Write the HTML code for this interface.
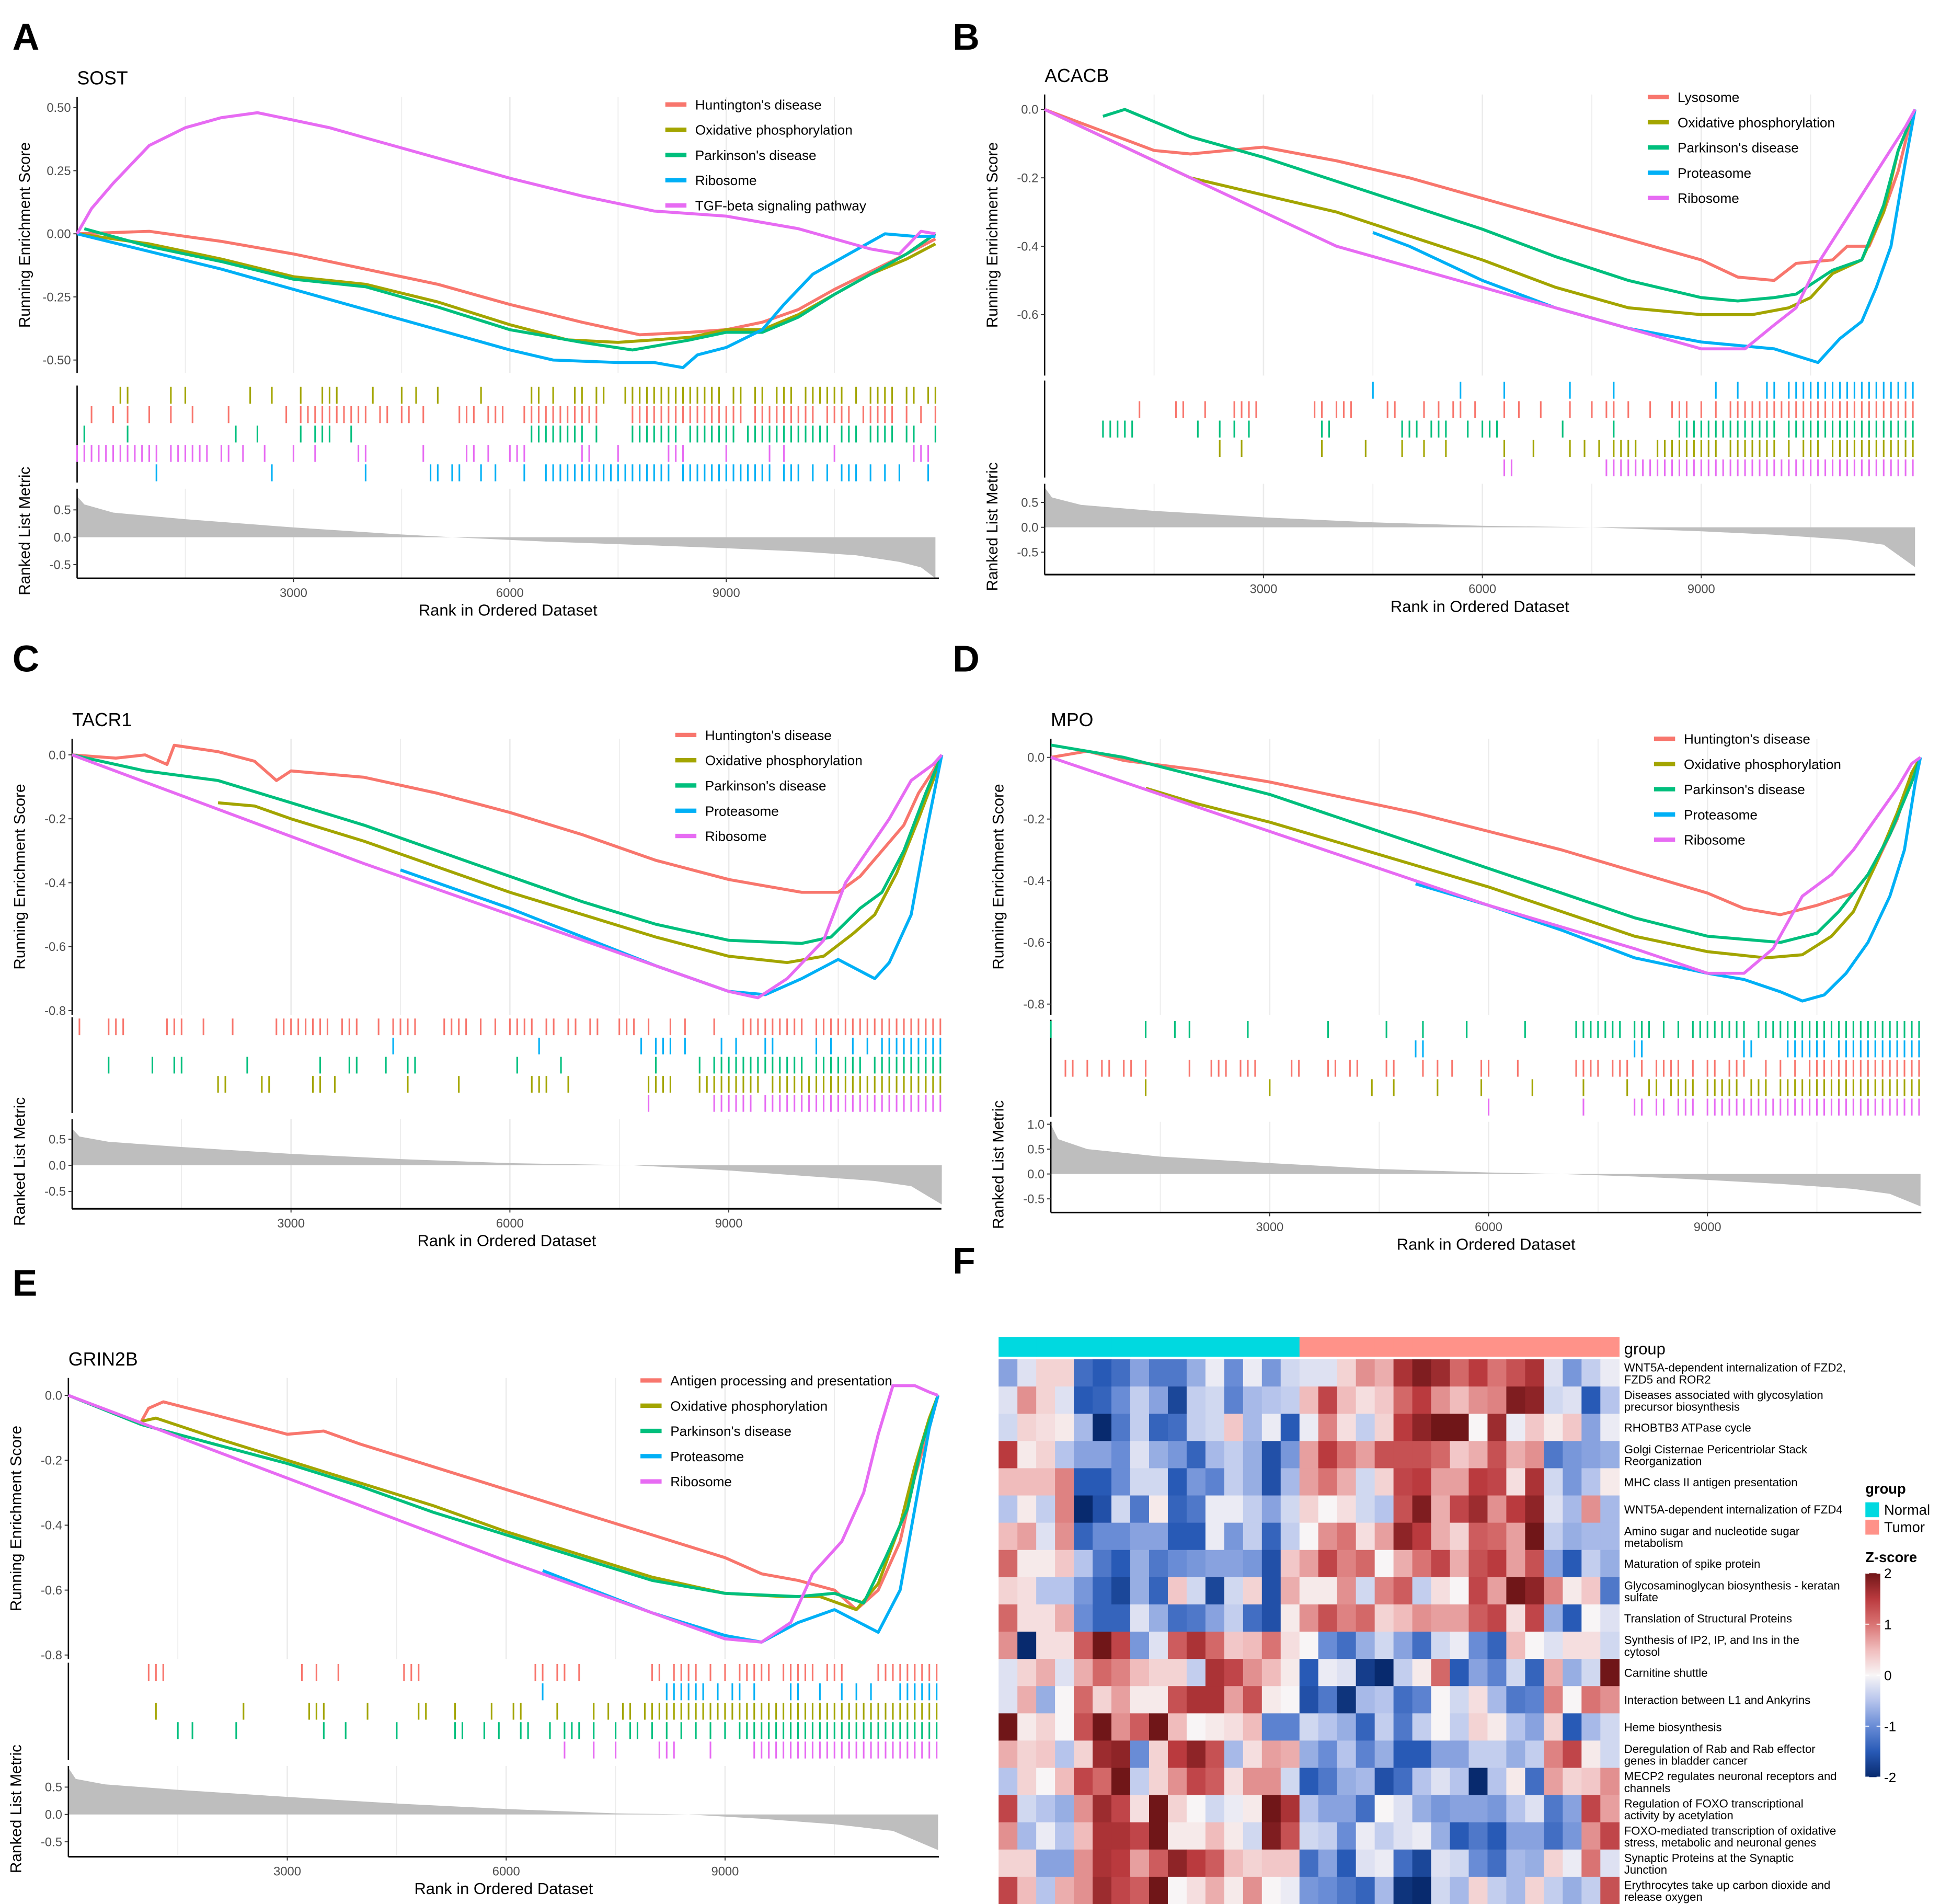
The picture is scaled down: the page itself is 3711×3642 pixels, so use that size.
<!DOCTYPE html>
<html><head><meta charset="utf-8">
<style>
html,body{margin:0;padding:0;background:#fff;}
svg{display:block;font-family:"Liberation Sans",sans-serif;}
</style></head>
<body>
<svg id="fig" xmlns="http://www.w3.org/2000/svg" width="3711" height="3642" viewBox="0 0 1560 1531"></svg>
<script>
// ---------- shared ----------
const xTicks = [3000, 6000, 9000];
const COL = {red:'#F8766D', olive:'#A3A500', green:'#00BF7D', blue:'#00B0F6', pink:'#E76BF3'};

// ---------- Panel A (SOST) ----------
const A_names = ["Huntington's disease","Oxidative phosphorylation","Parkinson's disease","Ribosome","TGF-beta signaling pathway"];
const A_red = [[0,0],[1,0.01],[2,-0.03],[3,-0.08],[4,-0.14],[5,-0.2],[6,-0.28],[7,-0.35],[7.8,-0.4],[8.5,-0.39],[9,-0.38],[9.5,-0.35],[10,-0.3],[10.5,-0.22],[11,-0.15],[11.5,-0.08],[11.9,-0.02]];
const A_olive = [[0,0],[1,-0.04],[2,-0.1],[3,-0.17],[4,-0.2],[5,-0.27],[6,-0.36],[6.8,-0.42],[7.5,-0.43],[8,-0.42],[8.5,-0.41],[9,-0.38],[9.5,-0.38],[10,-0.32],[10.5,-0.24],[11,-0.16],[11.5,-0.1],[11.9,-0.04]];
const A_green = [[0.1,0.02],[1,-0.05],[2,-0.11],[3,-0.18],[4,-0.21],[5,-0.29],[6,-0.38],[7,-0.43],[7.7,-0.46],[8.5,-0.42],[9,-0.39],[9.5,-0.39],[10,-0.33],[10.5,-0.24],[11,-0.16],[11.5,-0.08],[11.9,0]];
const A_blue = [[0,0],[1,-0.07],[2,-0.14],[3,-0.22],[4,-0.3],[5,-0.38],[6,-0.46],[6.6,-0.5],[7.5,-0.51],[8,-0.51],[8.4,-0.53],[8.6,-0.48],[9,-0.45],[9.5,-0.38],[9.8,-0.28],[10.2,-0.16],[10.7,-0.08],[11.2,0],[11.6,-0.01],[11.9,-0.01]];
const A_pink = [[0,0],[0.2,0.1],[0.5,0.2],[1,0.35],[1.5,0.42],[2,0.46],[2.5,0.48],[3,0.45],[3.5,0.42],[4,0.38],[5,0.3],[6,0.22],[7,0.15],[8,0.09],[9,0.07],[10,0.02],[11,-0.06],[11.4,-0.08],[11.7,0.01],[11.9,0]];
const A_rug_olive = [6,7,13,15,24,27,31,34,35,36,41,45,47,50,56,63,64,66,69,70,72,73,76,77,78,79,80,81,82,83,84,85,86,87,88,89,91,92,94,95,97,98,99,101,102,103,104,105,106,108,110,111,112,113,115,116,118,119];
const A_rug_red = [2,5,7,10,13,16,21,29,31,32,33,34,35,36,37,38,39,40,42,43,45,46,48,53,54,55,57,58,59,62,63,64,65,66,67,68,69,70,71,72,77,78,79,80,81,82,83,84,85,86,87,88,89,90,91,92,94,95,96,97,98,99,100,101,102,104,105,106,107,109,110,111,112,113,115,117,119];
const A_rug_green = [1,7,22,25,31,33,34,35,38,63,64,65,66,67,68,69,70,72,77,78,79,80,81,82,83,85,86,87,88,89,90,91,93,94,95,96,97,98,99,100,101,102,103,104,106,107,108,110,111,112,113,115,116,119];
const A_rug_pink = [0,1,2,3,4,5,6,7,8,9,10,11,13,14,15,16,17,18,20,21,23,26,30,33,39,40,48,54,55,57,60,61,62,70,71,75,82,83,84,90,96,98,105,116,117,118];
const A_rug_blue = [11,27,40,49,50,52,53,56,58,62,65,66,67,68,69,70,71,72,73,74,75,76,77,78,79,80,81,82,84,85,86,87,88,89,90,91,92,93,94,95,96,98,99,100,102,104,106,107,108,110,112,114,118];
const A_metric = [[0,0.75],[0.1,0.6],[0.5,0.45],[1.5,0.33],[3,0.18],[4.5,0.05],[5.2,0],[6.5,-0.08],[8,-0.15],[9,-0.2],[10,-0.26],[10.8,-0.33],[11.4,-0.45],[11.7,-0.55],[11.9,-0.75]];

// ---------- Panel B (ACACB) ----------
const B_names = ["Lysosome","Oxidative phosphorylation","Parkinson's disease","Proteasome","Ribosome"];
const B_red = [[0,0],[1,-0.08],[1.5,-0.12],[2,-0.13],[2.5,-0.12],[3,-0.11],[4,-0.15],[5,-0.2],[6,-0.26],[7,-0.32],[8,-0.38],[9,-0.44],[9.5,-0.49],[10,-0.5],[10.3,-0.45],[10.8,-0.44],[11,-0.4],[11.3,-0.4],[11.5,-0.3],[11.7,-0.18],[11.85,-0.05],[11.93,0]];
const B_olive = [[0,0],[2,-0.2],[3,-0.25],[4,-0.3],[5,-0.37],[6,-0.44],[7,-0.52],[8,-0.58],[9,-0.6],[9.7,-0.6],[10.2,-0.58],[10.5,-0.55],[10.8,-0.48],[11.2,-0.44],[11.5,-0.3],[11.7,-0.12],[11.93,0]];
const B_green = [[0.8,-0.02],[1.1,0],[2,-0.08],[3,-0.14],[4,-0.21],[5,-0.28],[6,-0.35],[7,-0.43],[8,-0.5],[9,-0.55],[9.5,-0.56],[10,-0.55],[10.3,-0.54],[10.8,-0.47],[11.2,-0.44],[11.5,-0.28],[11.7,-0.12],[11.93,0]];
const B_blue = [[4.5,-0.36],[5,-0.4],[6,-0.5],[7,-0.58],[8,-0.64],[9,-0.68],[10,-0.7],[10.6,-0.74],[10.9,-0.67],[11.2,-0.62],[11.4,-0.52],[11.6,-0.4],[11.8,-0.15],[11.93,0]];
const B_pink = [[0,0],[2,-0.2],[4,-0.4],[6,-0.52],[8,-0.64],[9,-0.7],[9.6,-0.7],[10,-0.63],[10.3,-0.58],[10.6,-0.45],[10.9,-0.35],[11.2,-0.25],[11.5,-0.15],[11.8,-0.05],[11.93,0]];
const B_rug_blue = [45,57,63,72,78,92,95,99,100,102,103,104,105,106,107,108,109,110,111,112,113,114,115,116,117,118,119];
const B_rug_red = [13,18,19,22,26,27,28,29,37,38,40,41,42,47,48,52,54,56,57,59,63,65,68,72,75,77,78,80,83,86,87,88,90,92,94,95,96,97,98,99,100,101,102,103,104,105,106,107,108,109,110,111,112,113,114,115,116,117,118,119];
const B_rug_green = [8,9,10,11,12,21,24,26,28,38,39,49,50,51,53,54,55,58,60,61,62,71,78,87,88,89,90,91,92,93,94,95,96,97,98,99,100,102,103,104,105,106,107,108,109,110,111,112,113,114,115,116,117,118,119];
const B_rug_olive = [24,27,38,44,49,52,55,63,67,72,74,76,78,79,80,81,84,85,86,87,88,89,90,91,92,94,95,96,97,98,99,100,102,104,105,106,108,109,110,111,112,113,114,115,116,117,118,119];
const B_rug_pink = [63,64,77,78,79,80,81,82,83,84,85,86,87,88,89,90,91,92,93,94,95,96,97,98,99,100,101,102,103,104,105,106,107,108,109,110,111,112,113,114,115,116,117,118,119];
const B_metric = [[0,0.8],[0.1,0.6],[0.5,0.45],[1.5,0.33],[3,0.2],[4.5,0.1],[6,0.03],[7.5,0],[9,-0.08],[10,-0.15],[11,-0.25],[11.5,-0.35],[11.93,-0.8]];

// ---------- Panel C (TACR1) ----------
const C_names = ["Huntington's disease","Oxidative phosphorylation","Parkinson's disease","Proteasome","Ribosome"];
const C_red = [[0,0],[0.6,-0.01],[1,0],[1.3,-0.03],[1.4,0.03],[2,0.01],[2.5,-0.02],[2.8,-0.08],[3,-0.05],[4,-0.07],[5,-0.12],[6,-0.18],[7,-0.25],[8,-0.33],[9,-0.39],[9.5,-0.41],[10,-0.43],[10.5,-0.43],[10.8,-0.38],[11.1,-0.3],[11.4,-0.22],[11.6,-0.12],[11.8,-0.05],[11.92,0]];
const C_olive = [[2,-0.15],[2.5,-0.16],[3,-0.2],[4,-0.27],[5,-0.35],[6,-0.43],[7,-0.5],[8,-0.57],[9,-0.63],[9.8,-0.65],[10.3,-0.63],[10.7,-0.56],[11,-0.5],[11.3,-0.37],[11.6,-0.2],[11.8,-0.08],[11.92,0]];
const C_green = [[0,0],[1,-0.05],[2,-0.08],[3,-0.15],[4,-0.22],[5,-0.3],[6,-0.38],[7,-0.46],[8,-0.53],[9,-0.58],[10,-0.59],[10.4,-0.57],[10.8,-0.48],[11.1,-0.43],[11.4,-0.3],[11.7,-0.12],[11.92,0]];
const C_blue = [[4.5,-0.36],[6,-0.48],[7,-0.57],[8,-0.66],[9,-0.74],[9.5,-0.75],[10,-0.7],[10.5,-0.64],[11,-0.7],[11.2,-0.65],[11.5,-0.5],[11.7,-0.25],[11.92,0]];
const C_pink = [[0,0],[2,-0.17],[4,-0.34],[6,-0.5],[8,-0.66],[9,-0.74],[9.4,-0.76],[9.8,-0.7],[10.3,-0.58],[10.6,-0.4],[10.9,-0.3],[11.2,-0.2],[11.5,-0.08],[11.8,-0.03],[11.92,0]];
const C_rug_red = [1,5,6,7,13,14,15,18,22,28,29,30,31,32,33,34,35,37,38,39,42,44,45,46,47,51,52,53,54,56,58,60,61,62,63,65,66,68,69,71,72,75,76,77,79,82,84,88,92,93,94,95,96,97,98,99,100,102,103,104,105,106,107,108,109,110,111,112,113,114,115,116,117,118,119];
const C_rug_blue = [44,64,78,80,81,82,84,89,91,95,96,102,104,107,109,111,112,113,114,115,116,117,118,119];
const C_rug_green = [5,11,14,15,24,34,38,39,43,46,47,61,67,80,86,88,89,90,91,92,93,94,95,96,97,98,99,100,102,103,104,105,106,107,108,110,111,112,113,114,115,116,117,118,119];
const C_rug_olive = [20,21,26,27,33,34,36,46,53,63,64,65,68,79,80,81,82,86,87,88,89,90,91,92,93,94,96,97,98,99,100,101,102,103,104,105,106,107,108,109,110,111,112,113,114,115,116,117,118,119];
const C_rug_pink = [79,88,89,90,91,92,93,95,96,97,98,99,100,101,102,103,104,105,106,107,108,109,110,111,112,113,114,115,116,117,118,119];
const C_metric = [[0,0.7],[0.1,0.55],[0.5,0.45],[1.5,0.35],[3,0.22],[4.5,0.12],[6,0.04],[7.7,0],[9,-0.1],[10,-0.2],[11,-0.3],[11.5,-0.4],[11.92,-0.75]];

// ---------- Panel D (MPO) ----------
const D_names = ["Huntington's disease","Oxidative phosphorylation","Parkinson's disease","Proteasome","Ribosome"];
const D_red = [[0,0],[0.5,0.02],[1,-0.01],[2,-0.04],[3,-0.08],[4,-0.13],[5,-0.18],[6,-0.24],[7,-0.3],[8,-0.37],[9,-0.44],[9.5,-0.49],[10,-0.51],[10.5,-0.48],[11,-0.44],[11.3,-0.35],[11.6,-0.2],[11.8,-0.05],[11.92,0]];
const D_olive = [[1.3,-0.1],[2,-0.15],[3,-0.21],[4,-0.28],[5,-0.35],[6,-0.42],[7,-0.5],[8,-0.58],[9,-0.63],[9.8,-0.65],[10.3,-0.64],[10.7,-0.58],[11,-0.5],[11.3,-0.35],[11.6,-0.18],[11.8,-0.05],[11.92,0]];
const D_green = [[0,0.04],[1,0],[2,-0.06],[3,-0.12],[4,-0.2],[5,-0.28],[6,-0.36],[7,-0.44],[8,-0.52],[9,-0.58],[10,-0.6],[10.5,-0.57],[10.8,-0.5],[11.2,-0.38],[11.5,-0.25],[11.8,-0.08],[11.92,0]];
const D_blue = [[5,-0.41],[6,-0.48],[7,-0.56],[8,-0.65],[9,-0.7],[9.5,-0.72],[10,-0.76],[10.3,-0.79],[10.6,-0.77],[10.9,-0.7],[11.2,-0.6],[11.5,-0.45],[11.7,-0.3],[11.85,-0.08],[11.92,0]];
const D_pink = [[0,0],[2,-0.16],[4,-0.32],[6,-0.48],[8,-0.62],[9,-0.7],[9.5,-0.7],[9.9,-0.62],[10.3,-0.45],[10.7,-0.38],[11,-0.3],[11.3,-0.2],[11.6,-0.1],[11.8,-0.02],[11.92,0]];
const D_rug_green = [0,13,17,19,27,38,46,51,57,65,72,73,74,75,76,77,78,80,81,82,84,86,88,89,90,91,92,93,94,95,97,98,99,100,101,102,103,104,105,106,107,108,109,110,111,112,113,114,115,116,117,118,119];
const D_rug_blue = [50,51,80,81,95,96,101,102,103,104,105,106,108,109,110,111,112,113,114,115,116,117,118,119];
const D_rug_red = [2,3,5,7,8,10,11,13,19,22,23,24,26,27,28,33,34,38,39,41,42,46,47,51,53,55,59,60,64,72,73,74,75,77,78,79,81,83,84,85,86,88,90,91,93,94,95,98,100,102,104,105,106,107,108,109,110,111,112,113,114,115,116,117,118,119];
const D_rug_olive = [13,30,44,47,53,59,66,73,79,82,83,85,86,87,88,90,91,92,93,94,96,97,98,100,101,102,103,104,105,106,107,108,109,110,111,112,113,114,115,116,117,118,119];
const D_rug_pink = [60,73,80,81,83,84,86,87,88,90,91,92,93,94,95,96,97,98,99,100,101,102,103,104,105,106,107,108,109,110,111,112,113,114,115,116,117,118,119];
const D_metric = [[0,1.0],[0.1,0.7],[0.5,0.5],[1.5,0.35],[3,0.22],[4.5,0.1],[6,0.03],[7,0],[8,-0.05],[9,-0.12],[10,-0.2],[11,-0.3],[11.5,-0.4],[11.92,-0.65]];

// ---------- Panel E (GRIN2B) ----------
const E_names = ["Antigen processing and presentation","Oxidative phosphorylation","Parkinson's disease","Proteasome","Ribosome"];
const E_red = [[1,-0.08],[1.1,-0.04],[1.3,-0.02],[2,-0.06],[3,-0.12],[3.5,-0.11],[4,-0.15],[5,-0.22],[6,-0.29],[7,-0.36],[8,-0.43],[9,-0.5],[9.5,-0.55],[10,-0.57],[10.5,-0.6],[10.8,-0.66],[11.1,-0.6],[11.4,-0.45],[11.6,-0.25],[11.8,-0.1],[11.92,0]];
const E_olive = [[1,-0.08],[1.2,-0.07],[2,-0.13],[3,-0.2],[4,-0.27],[5,-0.34],[6,-0.42],[7,-0.49],[8,-0.56],[9,-0.61],[9.8,-0.62],[10.3,-0.62],[10.8,-0.66],[11.1,-0.58],[11.4,-0.4],[11.6,-0.22],[11.8,-0.07],[11.92,0]];
const E_green = [[0,0],[1,-0.09],[2,-0.15],[3,-0.21],[4,-0.28],[5,-0.36],[6,-0.43],[7,-0.5],[8,-0.57],[9,-0.61],[10,-0.62],[10.5,-0.61],[10.9,-0.64],[11.2,-0.5],[11.5,-0.35],[11.7,-0.15],[11.92,0]];
const E_blue = [[6.5,-0.54],[8,-0.67],[9,-0.74],[9.5,-0.76],[10,-0.7],[10.5,-0.66],[11.1,-0.73],[11.4,-0.6],[11.6,-0.35],[11.8,-0.1],[11.92,0]];
const E_pink = [[0,0],[2,-0.17],[4,-0.34],[6,-0.51],[8,-0.67],[9,-0.75],[9.5,-0.76],[9.9,-0.7],[10.2,-0.55],[10.6,-0.45],[10.9,-0.3],[11.1,-0.12],[11.3,0.03],[11.6,0.03],[11.8,0.01],[11.92,0]];
const E_rug_red = [11,12,13,32,34,37,46,47,48,64,65,67,68,70,80,81,83,84,85,86,88,90,92,93,94,95,96,98,99,100,101,102,104,105,106,111,112,113,114,115,116,117,118,119];
const E_rug_blue = [65,82,83,84,85,86,87,89,91,92,94,99,100,103,106,108,110,114,115,116,117,118,119];
const E_rug_olive = [12,24,33,34,35,41,48,49,53,58,61,62,67,72,74,76,77,79,80,81,82,83,84,85,86,87,88,89,90,91,92,93,94,95,96,97,98,99,100,101,102,103,104,105,106,107,108,109,110,111,112,113,114,115,116,117,118,119];
const E_rug_green = [15,17,23,35,38,45,53,54,57,59,62,63,66,68,69,70,72,75,77,78,80,82,84,86,88,90,92,93,94,95,96,97,98,99,100,101,102,103,104,105,106,107,108,109,110,111,112,113,114,115,116,117,118,119];
const E_rug_pink = [68,72,75,81,82,83,88,94,95,96,97,98,99,100,101,102,103,104,105,106,107,108,109,110,111,112,113,114,115,116,117,118,119];
const E_metric = [[0,0.85],[0.1,0.65],[0.5,0.55],[1.5,0.45],[3,0.32],[4.5,0.2],[6,0.1],[7.5,0.02],[8.5,0],[9.5,-0.08],[10.5,-0.18],[11.3,-0.3],[11.92,-0.65]];

// ---------- Heatmap (F) ----------
const hmRows = ["WNT5A-dependent internalization of FZD2,|FZD5 and ROR2","Diseases associated with glycosylation|precursor biosynthesis","RHOBTB3 ATPase cycle","Golgi Cisternae Pericentriolar Stack|Reorganization","MHC class II antigen presentation","WNT5A-dependent internalization of FZD4","Amino sugar and nucleotide sugar|metabolism","Maturation of spike protein","Glycosaminoglycan biosynthesis - keratan|sulfate","Translation of Structural Proteins","Synthesis of IP2, IP, and Ins in the|cytosol","Carnitine shuttle","Interaction between L1 and Ankyrins","Heme biosynthesis","Deregulation of Rab and Rab effector|genes in bladder cancer","MECP2 regulates neuronal receptors and|channels","Regulation of FOXO transcriptional|activity by acetylation","FOXO-mediated transcription of oxidative|stress, metabolic and neuronal genes","Synaptic Proteins at the Synaptic|Junction","Erythrocytes take up carbon dioxide and|release oxygen"];
const hmGroups = ["Normal","Normal","Normal","Normal","Normal","Normal","Normal","Normal","Normal","Normal","Normal","Normal","Normal","Normal","Normal","Normal","Tumor","Tumor","Tumor","Tumor","Tumor","Tumor","Tumor","Tumor","Tumor","Tumor","Tumor","Tumor","Tumor","Tumor","Tumor","Tumor","Tumor"];
const hmZ = [
[-0.8,-0.2,0.3,0.3,-1.3,-1.5,-1.3,-0.8,-1.2,-1.2,-0.7,-0.1,-1,-0.1,-0.9,-0.3,-0.2,-0.2,0.3,0.8,0.6,1.6,1.9,1.7,1.1,1.5,1,1.3,1.6,-0.2,-0.9,-0.4,-0.1],
[-0.2,0.8,0.3,-0.2,-1.5,-1.4,-1,-0.4,-0.8,-1.7,-0.4,-0.3,-1.1,-0.6,-0.5,-0.4,0.5,1.4,0.5,0.2,0.4,1.1,1.5,0.8,0.5,0.8,0.9,1.9,1.8,-0.3,-0.2,-1.5,-0.5],
[-0.3,0.3,0.2,0.1,-0.6,-2.2,-1.2,-0.4,-1.4,-1.3,-0.4,-0.3,0.4,-0.6,-0.1,-1.5,-0.1,0.9,0.2,-0.4,0.3,1.5,1.8,2.3,2,0,1.7,-0.1,0.4,0.1,0.4,-0.8,-0.1],
[1.5,0.1,0.3,-0.5,-0.8,-0.8,-1,-0.2,-0.7,-0.9,-1.4,-0.6,-0.4,-0.7,-1.6,-0.9,0.7,1.5,1,0.7,1.3,1.3,1.3,1.1,0.4,0.6,1.3,0.6,0.8,-1.2,-0.9,-0.8,-0.7],
[0.5,0.5,0.5,0.9,-1.5,-1.5,-1,-0.3,-0.3,-1.5,-0.9,-1.1,-0.4,-0.7,-1.6,-0.6,0.7,1,0.6,-0.3,0.3,1.4,1.5,0.7,0.7,1.5,1.4,0.2,1.6,-0.3,-0.9,-0.5,0.1],
[-0.5,0.1,-0.4,0.9,-2.1,-1.6,-0.3,-1.2,0.1,-1.4,-1.2,-0.1,-0.1,-0.4,-0.8,-0.3,0.3,0,0.2,-0.3,-0.5,1.3,1.9,0.6,1.4,1.7,0.8,1.5,1.8,-0.2,-0.6,0.8,-0.6],
[0.5,0.7,-0.2,0.8,-1.4,-1,-1,-0.8,-0.8,-1.5,-1.5,-0.1,-0.9,-0.4,-1.4,-0.4,0,0.8,1,0.2,0.7,1.8,1.5,0.6,0.3,1.2,1.1,0.7,2,-0.4,-0.7,-0.6,-0.6],
[1.1,0.1,0.1,0.4,-0.5,-1.2,-1.5,-0.7,-1.2,-1,-0.9,-0.8,-0.8,-0.9,-1.6,0.4,0.7,1.4,0.9,1.1,0,0.6,1,1.4,0.6,1.3,1.5,0.7,1.3,-0.8,-1.5,-0.4,-0.7],
[0.3,0.2,-0.5,-0.5,-0.9,-1.4,-1.7,-0.7,-1.4,0.4,-0.3,-1.7,-0.3,0.3,-1.6,0.6,0.1,0.1,0.8,-0.3,0.9,1.2,-0.4,0.2,0,1.4,0.7,2.3,1.8,0.9,0.1,0.4,-1.2],
[1.1,0.2,0.2,0.6,-1,-1.4,-1.4,-0.2,-0.7,-1.3,-1.2,-0.8,-0.4,-1.3,-1.6,0.1,0.8,1.3,0.9,1.1,0.3,0.5,0.8,0.7,0.7,1.2,1.4,0.2,1.4,-0.7,-1.5,0,-0.2],
[0.8,-2.2,0.2,0.2,1.2,2,1.4,-0.9,-0.2,1.2,1.6,1.1,0.4,0.5,1,0.2,0,-1,-1.3,-0.7,-0.3,-0.8,-1.3,-0.3,-0.1,-1,-1.4,0.5,0,-0.2,0.2,0.2,-0.3],
[-0.2,0.3,0.6,-0.2,0.6,1.1,0.9,0.5,0.3,0.3,-0.4,1.6,1.4,0.8,0.5,0.1,-1.5,-0.1,-0.2,-1.8,-2.1,-0.4,0.1,1.1,-1.5,-0.8,-1.1,-0.3,-1.4,0.6,-0.7,-0.3,2],
[-0.2,0.6,-0.7,0,1.1,0.3,0.7,0.1,0.1,1.3,1.6,1.6,0.7,1.3,0.1,0,-1.6,-1.2,-1.9,-0.6,-0.5,-1.3,-1.1,0,-0.3,0.2,-0.6,-1.2,-1.1,0.9,0,1,0.8],
[2,0.1,0.3,0,1.3,2.3,0.8,1.2,2.3,0.5,0,0.1,0.2,0.5,-1.1,-1.1,-0.3,-0.5,-0.7,-1.4,-0.4,-1.2,-0.4,0,-0.4,0.3,0.1,-0.5,-0.8,0.3,-1.5,-0.6,-0.3],
[0.6,0.3,0.4,-0.5,0.3,1.7,1.8,-1,0.3,1.5,1.8,1.3,-0.6,0.2,0.7,0.6,-0.7,-1,-0.5,-1.1,-0.7,-1.5,-1.5,-0.8,-0.8,-0.4,-0.4,-0.7,-0.4,0.9,1.4,0.1,-0.3],
[-0.5,0.3,0,0.5,1.4,1.1,2.2,-0.4,0.3,0.8,1.4,1.2,0.2,0.8,0.8,-0.3,-1.5,-1.2,-0.7,-0.6,-1.6,-1.3,-0.5,-0.2,-0.5,-2.1,-0.5,0.1,-1.3,0.7,0.3,0.4,0.8],
[1.4,-0.3,-0.5,-0.7,0.8,1.7,1.4,0.2,2,0.3,0,-0.3,-0.1,0.1,2.1,1.6,-0.5,-0.8,-0.8,-1.3,0,-0.2,-0.7,-0.9,-0.8,-0.8,-0.9,-0.5,-0.2,-1.2,-0.8,1.4,0.7],
[0.8,-0.6,-0.1,-0.5,0.5,1.6,1.6,1.4,2,0.1,0.1,0.5,0.1,-0.3,1.9,1.3,-0.3,-0.4,-1,-0.1,-0.4,-0.2,-0.1,-0.7,-1.5,-1.2,-1.5,-0.8,-0.8,-1.3,-0.9,0.8,1.4],
[0.3,0.3,-0.8,-0.8,0.8,1.6,1.5,0.7,1.2,1.8,1.5,1.2,0.5,0.3,0.4,0.4,-1.3,-0.8,-1.5,-0.2,-0.1,-1.3,-1.7,-0.2,-0.3,-1,-1.3,-0.6,-0.7,0.3,-0.1,1,-0.2],
[1.4,0.5,-0.5,0.6,0.8,1.7,1.4,1.2,2.1,0,0.2,0.6,0.1,0.8,0,-0.1,-0.9,-1,-1.2,-1.4,-0.6,-1.9,-2.1,-0.3,-0.6,0.3,-0.4,-0.6,0.3,-0.4,-0.7,-0.4,1.3]
];
const zTicks = [2,1,0,-1,-2];

// ---------- drawing ----------
const NS = 'http://www.w3.org/2000/svg';
const svg = document.getElementById('fig');
function mk(tag, attrs, parent, text){
  const e = document.createElementNS(NS, tag);
  for (const k in attrs) e.setAttribute(k, attrs[k]);
  if (text !== undefined) e.textContent = text;
  (parent || svg).appendChild(e);
  return e;
}

const panelDefs = [
 {id:'A', gene:'SOST', x0:62, kx:58, x1:755, esY0:188, esK:203, esTop:78, esBot:300, esTicks:[0.5,0.25,0,-0.25,-0.5], dec:2,
  rugTop:310, rugBot:388, metY0:432, metK:44, metTop:393, metBot:465, metTicks:[0.5,0,-0.5],
  legX:535, legY:84, names:A_names, series:[['red',A_red],['olive',A_olive],['green',A_green],['blue',A_blue],['pink',A_pink]],
  rug:[['olive',A_rug_olive],['red',A_rug_red],['green',A_rug_green],['pink',A_rug_pink],['blue',A_rug_blue]], metric:A_metric, letterX:10, letterY:40},
 {id:'B', gene:'ACACB', x0:840, kx:58.67, x1:1540, esY0:88, esK:275, esTop:76, esBot:302, esTicks:[0,-0.2,-0.4,-0.6], dec:1,
  rugTop:306, rugBot:384, metY0:424, metK:40, metTop:389, metBot:462, metTicks:[0.5,0,-0.5],
  legX:1325, legY:78, names:B_names, series:[['red',B_red],['olive',B_olive],['green',B_green],['blue',B_blue],['pink',B_pink]],
  rug:[['blue',B_rug_blue],['red',B_rug_red],['green',B_rug_green],['olive',B_rug_olive],['pink',B_rug_pink]], metric:B_metric, letterX:766, letterY:40},
 {id:'C', gene:'TACR1', x0:58, kx:58.67, x1:757, esY0:607, esK:257, esTop:594, esBot:816, esTicks:[0,-0.2,-0.4,-0.6,-0.8], dec:1,
  rugTop:818, rugBot:895, metY0:937, metK:42, metTop:900, metBot:972, metTicks:[0.5,0,-0.5],
  legX:543, legY:591, names:C_names, series:[['red',C_red],['olive',C_olive],['green',C_green],['blue',C_blue],['pink',C_pink]],
  rug:[['red',C_rug_red],['blue',C_rug_blue],['green',C_rug_green],['olive',C_rug_olive],['pink',C_rug_pink]], metric:C_metric, letterX:10, letterY:540},
 {id:'D', gene:'MPO', x0:845, kx:58.67, x1:1545, esY0:609, esK:248, esTop:594, esBot:816, esTicks:[0,-0.2,-0.4,-0.6,-0.8], dec:1,
  rugTop:820, rugBot:898, metY0:944, metK:40, metTop:902, metBot:975, metTicks:[1.0,0.5,0,-0.5], metDec:1,
  legX:1330, legY:594, names:D_names, series:[['red',D_red],['olive',D_olive],['green',D_green],['blue',D_blue],['pink',D_pink]],
  rug:[['green',D_rug_green],['blue',D_rug_blue],['red',D_rug_red],['olive',D_rug_olive],['pink',D_rug_pink]], metric:D_metric, letterX:766, letterY:540},
 {id:'E', gene:'GRIN2B', x0:55, kx:58.67, x1:755, esY0:1122, esK:261, esTop:1108, esBot:1334, esTicks:[0,-0.2,-0.4,-0.6,-0.8], dec:1,
  rugTop:1337, rugBot:1415, metY0:1459, metK:44, metTop:1420, metBot:1493, metTicks:[0.5,0,-0.5],
  legX:515, legY:1110, names:E_names, series:[['red',E_red],['olive',E_olive],['green',E_green],['blue',E_blue],['pink',E_pink]],
  rug:[['red',E_rug_red],['blue',E_rug_blue],['olive',E_rug_olive],['green',E_rug_green],['pink',E_rug_pink]], metric:E_metric, letterX:10, letterY:1042}
];

function fmt(v,d){ let s=v.toFixed(d); return s; }

panelDefs.forEach(p => {
  const g = mk('g', {});
  
  
  const X = r => p.x0 + r * p.kx;          // r in thousands of ranks
  const YE = v => p.esY0 - v * p.esK;
  const YM = v => p.metY0 - v * p.metK;

  const L = mk('text', {x:p.letterX, y:p.letterY, 'font-size':30, 'font-weight':'bold', fill:'#000'}, g, p.id);
  
  
  const T = mk('text', {x:p.x0, y:p.esTop - 10, 'font-size':15, fill:'#000'}, g, p.gene);
  
  

  // grid
  [1.5,3,4.5,6,7.5,9,10.5].forEach(k => {
    const x = X(k);
    const w = (k % 3 === 0) ? 1.1 : 0.7;
    mk('line', {x1:x, x2:x, y1:p.esTop, y2:p.esBot, stroke:'#ebebeb', 'stroke-width':w}, g);
    mk('line', {x1:x, x2:x, y1:p.metTop, y2:p.metBot, stroke:'#ebebeb', 'stroke-width':w}, g);
  });

  // ES axis
  mk('line', {x1:p.x0, x2:p.x0, y1:p.esTop, y2:p.esBot, stroke:'#000', 'stroke-width':1.1}, g);
  p.esTicks.forEach(v => {
    const y = YE(v);
    mk('line', {x1:p.x0-3, x2:p.x0, y1:y, y2:y, stroke:'#333', 'stroke-width':0.8}, g);
    const t = mk('text', {x:p.x0-5, y:y+3.5, 'font-size':10, fill:'#4d4d4d', 'text-anchor':'end'}, g, fmt(v,p.dec));
    
    
  });
  const yt = mk('text', {x:0, y:0, 'font-size':12.5, fill:'#000', 'text-anchor':'middle',
    transform:`translate(${p.x0-38},${(p.esTop+p.esBot)/2}) rotate(-90)`}, g, 'Running Enrichment Score');
  
  

  // curves
  p.series.forEach(([c, pts], i) => {
    const d = pts.map((q,j) => (j? 'L':'M') + X(q[0]).toFixed(1) + ',' + YE(q[1]).toFixed(1)).join(' ');
    const path = mk('path', {d:d, fill:'none', stroke:COL[c], 'stroke-width':2.4, 'stroke-linejoin':'round'}, g);
    
    
  });

  // legend
  p.series.forEach(([c], i) => {
    const y = p.legY + i * 20.3;
    mk('line', {x1:p.legX, x2:p.legX+17, y1:y, y2:y, stroke:COL[c], 'stroke-width':3.5}, g);
    const t = mk('text', {x:p.legX+24, y:y+4, 'font-size':11, fill:'#000'}, g, p.names[i]);
    
    
  });

  // rug
  mk('line', {x1:p.x0, x2:p.x0, y1:p.rugTop, y2:p.rugBot, stroke:'#000', 'stroke-width':1.1}, g);
  const rh = (p.rugBot - p.rugTop) / 5;
  p.rug.forEach(([c, arr], i) => {
    const y1 = p.rugTop + i*rh + 1, y2 = p.rugTop + (i+1)*rh - 1;
    const rg = mk('g', {stroke:COL[c], 'stroke-width':1.3}, g);
    
    
    arr.forEach(h => { const x = X(h/10); mk('line', {x1:x, x2:x, y1:y1, y2:y2}, rg); });
  });

  // metric
  const md = 'M' + X(p.metric[0][0]) + ',' + YM(0) + ' ' + p.metric.map(q => 'L' + X(q[0]).toFixed(1) + ',' + YM(q[1]).toFixed(1)).join(' ') + ' L' + X(p.metric[p.metric.length-1][0]) + ',' + YM(0) + ' Z';
  const mp = mk('path', {d:md, fill:'#bebebe', stroke:'none'}, g);
  
  
  mk('line', {x1:p.x0, x2:p.x0, y1:p.metTop, y2:p.metBot, stroke:'#000', 'stroke-width':1.1}, g);
  mk('line', {x1:p.x0, x2:p.x1, y1:p.metBot, y2:p.metBot, stroke:'#000', 'stroke-width':1.3}, g);
  p.metTicks.forEach(v => {
    const y = YM(v);
    mk('line', {x1:p.x0-3, x2:p.x0, y1:y, y2:y, stroke:'#333', 'stroke-width':0.8}, g);
    const t = mk('text', {x:p.x0-5, y:y+3.5, 'font-size':10, fill:'#4d4d4d', 'text-anchor':'end'}, g, fmt(v,1));
    
    
  });
  xTicks.forEach(v => {
    const x = X(v/1000);
    mk('line', {x1:x, x2:x, y1:p.metBot, y2:p.metBot+3, stroke:'#333', 'stroke-width':0.8}, g);
    const t = mk('text', {x:x, y:p.metBot+15, 'font-size':10, fill:'#4d4d4d', 'text-anchor':'middle'}, g, String(v));
    
    
  });
  const xt = mk('text', {x:(p.x0+p.x1)/2, y:p.metBot+30, 'font-size':13, fill:'#000', 'text-anchor':'middle'}, g, 'Rank in Ordered Dataset');
  
  
  const mt = mk('text', {x:0, y:0, 'font-size':12.5, fill:'#000', 'text-anchor':'middle',
    transform:`translate(${p.x0-38},${(p.metTop+p.metBot)/2-2}) rotate(-90)`}, g, 'Ranked List Metric');
  
  
});

// ---------- heatmap drawing ----------
(function(){
  const g = mk('g', {});
  
  
  const L = mk('text', {x:766, y:1024, 'font-size':30, 'font-weight':'bold', fill:'#000'}, g, 'F');
  
  
  const hx0 = 803, hx1 = 1302, hy0 = 1093, hy1 = 1531, by0 = 1075, by1 = 1091;
  const cw = (hx1 - hx0) / hmGroups.length, rh = (hy1 - hy0) / hmRows.length;
  const stops = [[-2,[8,42,110]],[-1.5,[40,90,182]],[-1,[105,140,214]],[-0.5,[182,196,236]],[0,[248,245,246]],[0.5,[240,188,188]],[1,[217,115,115]],[1.5,[186,58,62]],[2,[112,22,24]]];
  function zc(v){
    v = Math.max(-2, Math.min(2, v));
    for (let i=0;i<stops.length-1;i++){
      const [a,ca]=stops[i],[b,cb]=stops[i+1];
      if (v>=a && v<=b){ const t=(v-a)/(b-a); return 'rgb('+ca.map((c,k)=>Math.round(c+(cb[k]-c)*t)).join(',')+')'; }
    }
    return '#fff';
  }
  hmGroups.forEach((gr, j) => {
    const r = mk('rect', {x:hx0 + j*cw, y:by0, width:cw+0.3, height:by1-by0, fill: gr==='Normal' ? '#00D9E0' : '#FF9289'}, g);
    
    
  });
  const gl = mk('text', {x:hx1+4, y:by1-2, 'font-size':13, fill:'#000'}, g, 'group');
  
  
  hmZ.forEach((row, i) => {
    row.forEach((v, j) => {
      const r = mk('rect', {x:hx0 + j*cw, y:hy0 + i*rh, width:cw+0.3, height:rh+0.3, fill:zc(v)}, g);
      
      
    });
    const parts = hmRows[i].split('|');
    const cy = hy0 + i*rh + rh/2;
    const t = mk('text', {x:hx1+4, y: parts.length===1 ? cy+3.5 : cy-1, 'font-size':9.3, fill:'#000'}, g);
    
    
    parts.forEach((s, k) => mk('tspan', {x:hx1+4, dy: k===0 ? 0 : 9.5}, t, s));
  });
  // legends
  const lg = mk('text', {x:1500, y:1201, 'font-size':11.5, 'font-weight':'bold', fill:'#000'}, g, 'group');
  
  
  [['Normal','#00D9E0'],['Tumor','#FF9289']].forEach(([n,c],i) => {
    const r = mk('rect', {x:1500, y:1208+i*14, width:11, height:12, fill:c}, g);
    
    
    const t = mk('text', {x:1515, y:1218+i*14, 'font-size':11.5, fill:'#000'}, g, n);
    
    
  });
  const zt = mk('text', {x:1500, y:1256, 'font-size':11.5, 'font-weight':'bold', fill:'#000'}, g, 'Z-score');
  
  
  const defs = mk('defs', {}, g);
  const lgd = mk('linearGradient', {id:'zg', x1:0, y1:0, x2:0, y2:1}, defs);
  stops.slice().reverse().forEach((s,i) => mk('stop', {offset:(i/(stops.length-1)), 'stop-color':'rgb('+s[1].join(',')+')'}, lgd));
  const zy0 = 1265, zy1 = 1429;
  const zb = mk('rect', {x:1500, y:zy0, width:12, height:zy1-zy0, fill:'url(#zg)'}, g);
  
  
  zTicks.forEach(v => {
    const y = zy0 + (2 - v) / 4 * (zy1 - zy0);
    mk('line', {x1:1500, x2:1503, y1:y, y2:y, stroke:'#fff', 'stroke-width':0.8}, g);
    mk('line', {x1:1509, x2:1512, y1:y, y2:y, stroke:'#fff', 'stroke-width':0.8}, g);
    const t = mk('text', {x:1515, y:y+4, 'font-size':11, fill:'#000'}, g, String(v));
    
    
  });
})();
</script>
</body></html>
